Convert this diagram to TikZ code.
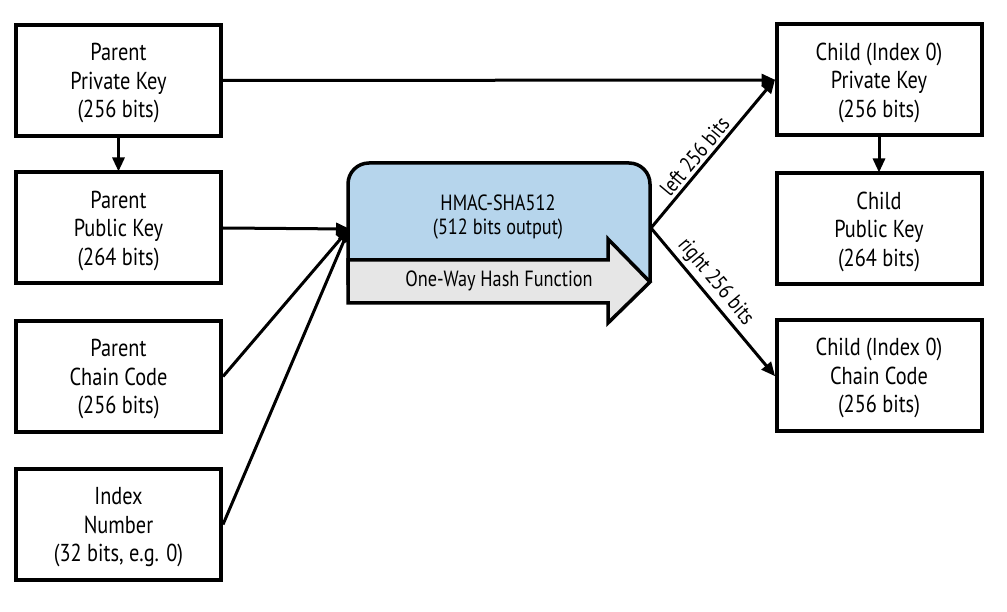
\documentclass[tikz,border=0pt]{standalone}
\usepackage{fontspec}
\setmainfont{PT Sans}[FakeStretch=0.83]
\usetikzlibrary{arrows.meta}
\definecolor{hmacblue}{RGB}{182,213,236}
\definecolor{hashgray}{RGB}{230,230,230}
\tikzset{
  keybox/.style={draw=black, line width=4pt, minimum width=205pt, minimum height=111pt,
    align=center, font=\fontsize{24.5}{28.5}\selectfont, inner sep=0pt, text depth=0pt},
  conn/.style={line width=3pt, -{Triangle[length=14pt,width=12pt]}, shorten >=-1pt},
  lbl/.style={font=\fontsize{22}{26}\selectfont, sloped, above, inner sep=3pt, pos=0.43}
}
\begin{document}
\begin{tikzpicture}[x=1pt,y=-1pt]
\useasboundingbox (0,0) rectangle (1007,612);
% left column
\node[keybox] (ppriv) at (118.5,80.5) {Parent\\Private Key\\(256 bits)};
\node[keybox] (ppub) at (118.5,228) {Parent\\Public Key\\(264 bits)};
\node[keybox] (pcc) at (118.5,376.5) {Parent\\Chain Code\\(256 bits)};
\node[keybox] (idx) at (118.5,524.5) {Index\\Number\\(32 bits, e.g. 0)};
% right column
\node[keybox] (cpriv) at (879,80) {Child (Index 0)\\Private Key\\(256 bits)};
\node[keybox] (cpub) at (879,229) {Child\\Public Key\\(264 bits)};
\node[keybox] (ccc) at (879,375.5) {Child (Index 0)\\Chain Code\\(256 bits)};
% HMAC block
\fill[hmacblue] (348,285) -- (348,184) arc[start angle=180,end angle=270,radius=21] -- (629,163)
  arc[start angle=270,end angle=360,radius=21] -- (650,285) -- cycle;
\draw[line width=3.5pt] (348,285) -- (348,184) arc[start angle=180,end angle=270,radius=21] -- (629,163)
  arc[start angle=270,end angle=360,radius=21] -- (650,282);
\draw[line width=3.5pt, line join=miter, fill=hashgray] (348,260) -- (608,260) -- (608,239) -- (650,282)
  -- (608,323) -- (608,303) -- (348,303) -- cycle;
\node[font=\fontsize{22}{24}\selectfont, align=center] (hmac) at (498,217) {HMAC-SHA512\\(512 bits output)};
\node[font=\fontsize{22}{28.5}\selectfont] (hash) at (499,281) {One-Way Hash Function};
\coordinate (hin) at (349,229);
\coordinate (hout) at (651,228);
% connectors
\draw[conn] (ppriv.east) -- (cpriv.west);
\draw[conn] (ppriv.south) -- (ppub.north);
\draw[conn] (cpriv.south) -- (cpub.north);
\draw[conn] (ppub.east) -- (hin);
\draw[conn] (pcc.east) -- (hin);
\draw[conn] (idx.east) -- (hin);
\draw[conn] (hout) -- node[lbl] {left 256 bits} (cpriv.west);
\draw[conn] (hout) -- node[lbl] {right 256 bits} (ccc.west);
\end{tikzpicture}
\end{document}
